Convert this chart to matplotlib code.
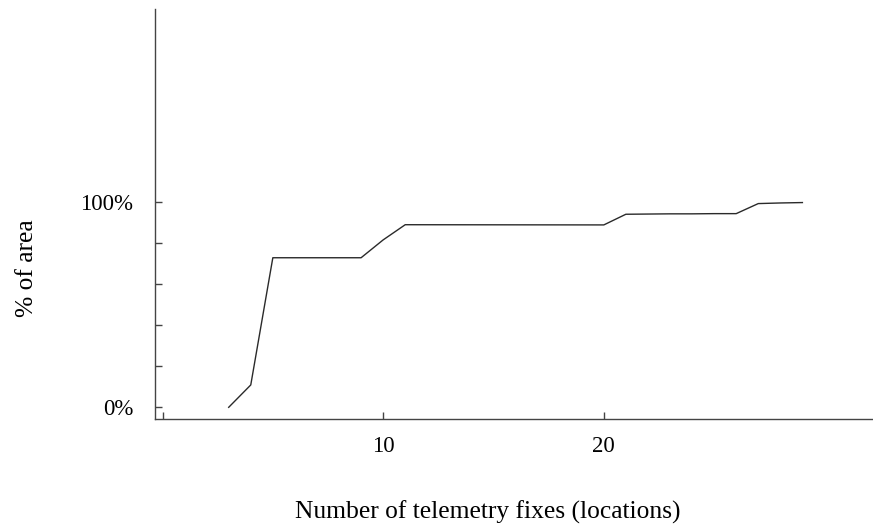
import matplotlib.pyplot as plt

# --- data ---
fixes = [3, 4, 5, 9, 10, 11, 20, 21, 22, 23, 24, 25, 26, 27, 28, 29]
pct_area = [0, 10.9, 72.9, 72.9, 81.6, 89.0, 88.9, 94.1, 94.2, 94.3, 94.3, 94.4, 94.4, 99.3, 99.6, 99.8]

y_ticks = [0, 20, 40, 60, 80, 100]
y_tick_labels = ['0%', '', '', '', '', '100%']
x_ticks = [0, 10, 20]
x_tick_labels = ['', '10', '20']

plt.rcParams['font.family'] = ['Liberation Serif', 'DejaVu Serif']

W, H = 873, 530
fig = plt.figure(figsize=(W / 100, H / 100), dpi=100)
ax = fig.add_axes([155 / W, 1 - 419 / H, (W - 155) / W, (419 - 9.3) / H])

ax.plot(fixes, pct_area, color='#2a2a2a', lw=1.0)

ax.set_xlim(-0.34, 32.2)
ax.set_ylim(-5.7, 194)

ax.set_yticks(y_ticks)
ax.set_yticklabels(y_tick_labels)
ax.set_xticks(x_ticks)
ax.set_xticklabels(x_tick_labels)

ax.tick_params(axis='y', direction='in', length=5, width=1, color='#444444', pad=15.5, labelsize=16.5)
ax.tick_params(axis='x', direction='in', length=5, width=1, color='#444444', pad=12, labelsize=16.5)

for side in ['top', 'right']:
    ax.spines[side].set_visible(False)
for side in ['left', 'bottom']:
    ax.spines[side].set_color('#444444')
    ax.spines[side].set_linewidth(1.0)

fig.text(27 / W, 1 - 268 / H, '% of area', rotation=90, ha='center', va='center', fontsize=18.4)
fig.text(488 / W, 1 - 512 / H, 'Number of telemetry fixes (locations)', ha='center', va='center', fontsize=18.4)

fig.savefig('out.png', dpi=100)
